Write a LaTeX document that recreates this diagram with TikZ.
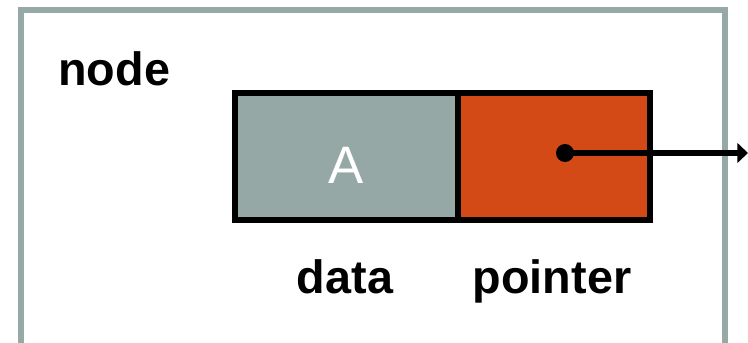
\documentclass[tikz,border=0pt]{standalone}
\usepackage{fontspec}
\setmainfont{Liberation Sans}
\usetikzlibrary{arrows.meta}

\definecolor{framegray}{RGB}{151,169,166}
\definecolor{datagray}{RGB}{149,168,165}
\definecolor{ptrorange}{RGB}{211,74,23}

\tikzset{
	cell/.style={draw=black, line width=3.4pt, inner sep=0pt, outer sep=0pt, minimum height=2.54cm},
	caption/.style={font=\fontsize{26.6}{30}\selectfont\bfseries, inner sep=0pt, anchor=base},
}

\begin{document}
\begin{tikzpicture}[x=0.02cm, y=-0.02cm]
		\path[use as bounding box, clip] (0,0) rectangle (748,342);
		\draw[framegray, line width=3.4pt] (21,10) rectangle (725,380);
		\node[caption, anchor=base west] (title) at (58,85) {node};
		\node[cell, fill=datagray, minimum width=4.46cm] (data) at (346.5,156.5) {};
		\node[cell, fill=ptrorange, minimum width=3.84cm] (pointer) at (554,156.5) {};
		\node[white, font=\fontsize{30}{36}\selectfont, inner sep=0pt, anchor=base] (val) at (346,183) {A};
		\node[caption] (datalbl) at (345,293) {data};
		\node[caption] (ptrlbl) at (552,293) {pointer};
		\node[circle, fill=black, inner sep=0pt, minimum size=0.36cm] (dot) at (565,153) {};
		\coordinate (next) at (748,153);
		\draw[line width=3.4pt, -{Triangle[length=6pt, width=11pt]}] (dot.center) -- (next);
	\end{tikzpicture}
\end{document}
